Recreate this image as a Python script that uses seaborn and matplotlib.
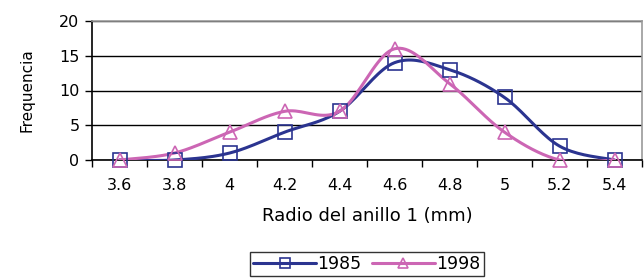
import numpy as np
import pandas as pd
import matplotlib
matplotlib.use("Agg")
import matplotlib.pyplot as plt
import seaborn as sns

# data
radios = ["3.6", "3.8", "4", "4.2", "4.4", "4.6", "4.8", "5", "5.2", "5.4"]
freq_1985 = [0, 0, 1, 4, 7, 14, 13, 9, 2, 0]
freq_1998 = [0, 1, 4, 7, 7, 16, 11, 4, 0, 0]

BLUE = "#2B3490"
PINK = "#CC66B4"


def smooth(y, n=20):
    """Excel-style smoothed line (Catmull-Rom through the points)"""
    y = np.asarray(y, dtype=float)
    x = np.arange(len(y), dtype=float)
    px = np.concatenate([[x[0]], x, [x[-1]]])
    py = np.concatenate([[y[0]], y, [y[-1]]])
    xs, ys = [], []
    for i in range(1, len(px) - 2):
        p0, p1, p2, p3 = px[i - 1], px[i], px[i + 1], px[i + 2]
        q0, q1, q2, q3 = py[i - 1], py[i], py[i + 1], py[i + 2]
        c1x, c1y = p1 + (p2 - p0) / 6, q1 + (q2 - q0) / 6
        c2x, c2y = p2 - (p3 - p1) / 6, q2 - (q3 - q1) / 6
        t = np.linspace(0, 1, n, endpoint=False)
        b0, b1, b2, b3 = (1 - t) ** 3, 3 * t * (1 - t) ** 2, 3 * t ** 2 * (1 - t), t ** 3
        xs.append(b0 * p1 + b1 * c1x + b2 * c2x + b3 * p2)
        ys.append(b0 * q1 + b1 * c1y + b2 * c2y + b3 * q2)
    xs.append([x[-1]])
    ys.append([y[-1]])
    return np.concatenate(xs), np.concatenate(ys)


sns.set_style("white")
plt.rcParams["font.family"] = ["DejaVu Sans"]
plt.rcParams["text.color"] = "black"
plt.rcParams["axes.labelcolor"] = "black"
plt.rcParams["xtick.color"] = "black"
plt.rcParams["ytick.color"] = "black"

fig = plt.figure(figsize=(6.44, 2.78), dpi=100)
ax = fig.add_axes([92 / 644, 1 - 160 / 278, 550 / 644, 139 / 278])

pos = np.arange(len(radios))
series = [("1985", freq_1985, BLUE, "s"), ("1998", freq_1998, PINK, "^")]
handles = []
for name, vals, col, mk in series:
    sx, sy = smooth(vals)
    curve = pd.DataFrame({"x": sx, "y": sy})
    sns.lineplot(data=curve, x="x", y="y", ax=ax, color=col, lw=2.2,
                 sort=False, zorder=3)
    pts = pd.DataFrame({"x": pos, "y": vals})
    ax.plot(pts["x"], pts["y"], ls="none", marker=mk, ms=10, mfc="none",
            mec=col, mew=1.2, zorder=4, clip_on=False)
    h, = ax.plot([], [], color=col, lw=2.2, marker=mk, ms=7, mfc="none",
                 mec=col, mew=1.2)
    handles.append(h)

ax.set_xlim(-0.5, len(radios) - 0.5)
ax.set_ylim(0, 20)
ax.set_yticks([0, 5, 10, 15, 20])
ax.set_xticks(pos)
ax.set_xticklabels(radios)
ax.set_xticks(np.arange(-0.5, len(radios)), minor=True)
ax.tick_params(axis="x", which="major", length=0, pad=13, labelsize=11.5)
ax.tick_params(axis="x", which="minor", length=5, width=1, color="black",
               direction="out", bottom=True)
ax.tick_params(axis="y", length=5, width=1, color="black", left=True,
               labelsize=11.5, pad=4)
ax.grid(axis="y", color="black", lw=1)
ax.grid(axis="x", visible=False)

for s in ["left", "bottom"]:
    ax.spines[s].set_color("black")
    ax.spines[s].set_linewidth(1.2)
for s in ["top", "right"]:
    ax.spines[s].set_color("#999999")
    ax.spines[s].set_linewidth(1.2)
ax.set_axisbelow(True)

ax.set_xlabel("Radio del anillo 1 (mm)", fontsize=13, labelpad=10)
ax.set_ylabel("Frequencia", fontsize=11)
ax.yaxis.set_label_coords(-58 / 550, 0.5)

fig.legend(handles, ["1985", "1998"], loc="center", ncol=2,
           bbox_to_anchor=(367 / 644, 1 - 264 / 278), frameon=True,
           fancybox=False, edgecolor="black", fontsize=12.5,
           handlelength=3.6, handletextpad=0.1, columnspacing=0.6,
           borderpad=0.2)

plt.savefig("out.png", dpi=100)
plt.close()
